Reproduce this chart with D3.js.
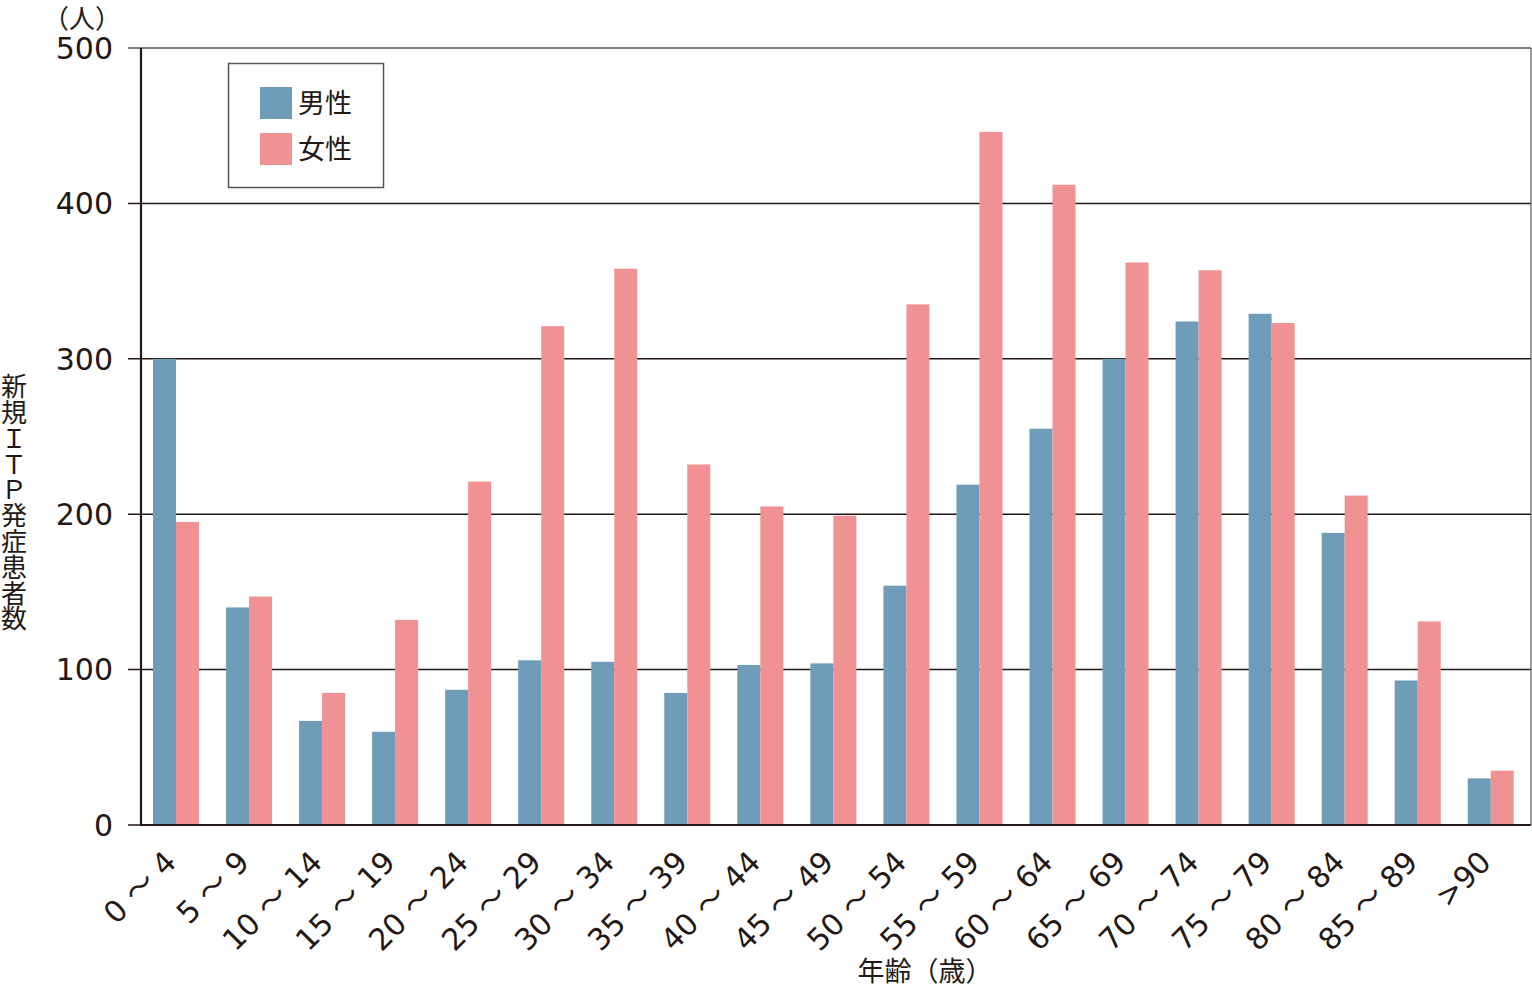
<!DOCTYPE html>
<html><head><meta charset="utf-8">
<script src="https://cdn.jsdelivr.net/npm/d3@7"></script>
<style>
html,body{margin:0;padding:0;background:#fff;}
svg{display:block;}
text{font-family:"Noto Sans CJK JP","Noto Sans",sans-serif;fill:#231815;}
text.num{font-family:"DejaVu Sans","Noto Sans CJK JP",sans-serif;}
</style></head>
<body>
<svg id="chart" width="1532" height="988"></svg>
<script>
const categories = ["0～4","5～9","10～14","15～19","20～24","25～29","30～34","35～39","40～44","45～49","50～54","55～59","60～64","65～69","70～74","75～79","80～84","85～89",">90"];
const male   = [300,140,67,60,87,106,105,85,103,104,154,219,255,300,324,329,188,93,30];
const female = [195,147,85,132,221,321,358,232,205,199,335,446,412,362,357,323,212,131,35];
const seriesNames = ["男性","女性"];
const seriesColors = ["#6f9cb9","#f09293"];
const yTicks = [0,100,200,300,400,500];
const yTitle = "新規ＩＴＰ発症患者数";

(function(){
const svg = d3.select("#chart");
const mLeft = 141, mRight = 1531, mTop = 48, mBottom = 825;

const x = d3.scaleBand().domain(categories).range([mLeft,mRight]).paddingInner(0.37).paddingOuter(0.2).align(0.41);
const xs = d3.scaleBand().domain(seriesNames).range([0,x.bandwidth()]).padding(0);
const y = d3.scaleLinear().domain([0,500]).range([mBottom,mTop]);

// gridlines + ticks
svg.append("g").selectAll("line").data(yTicks.filter(d=>d>0)).join("line")
  .attr("x1",128).attr("x2",mRight)
  .attr("y1",d=>y(d)).attr("y2",d=>y(d))
  .attr("stroke",d=>d===500?"#555":"#231815").attr("stroke-width",1.5);
svg.append("line").attr("x1",128).attr("x2",mLeft).attr("y1",y(0)).attr("y2",y(0)).attr("stroke","#231815").attr("stroke-width",1.5);

// tick labels
svg.append("g").selectAll("text").data(yTicks).join("text")
  .attr("class","num")
  .attr("x",113).attr("y",d=>y(d)).attr("dy","0.36em")
  .attr("text-anchor","end").attr("font-size",30).text(d=>d);

// bars
const data = categories.map((c,i)=>({c, vals:[male[i],female[i]]}));
const g = svg.append("g").selectAll("g").data(data).join("g")
  .attr("transform",d=>`translate(${x(d.c)},0)`);
g.selectAll("rect").data(d=>d.vals.map((v,j)=>({v,s:seriesNames[j],col:seriesColors[j]}))).join("rect")
  .attr("x",d=>xs(d.s)).attr("width",xs.bandwidth())
  .attr("y",d=>y(d.v)).attr("height",d=>y(0)-y(d.v))
  .attr("fill",d=>d.col);

// axes lines
svg.append("line").attr("x1",mLeft).attr("x2",mLeft).attr("y1",mTop).attr("y2",mBottom+1).attr("stroke","#231815").attr("stroke-width",2.2);
svg.append("line").attr("x1",mLeft).attr("x2",mRight).attr("y1",mBottom).attr("y2",mBottom).attr("stroke","#231815").attr("stroke-width",2.2);
svg.append("line").attr("x1",mRight).attr("x2",mRight).attr("y1",mTop).attr("y2",mBottom).attr("stroke","#555").attr("stroke-width",1.2);

// x labels
svg.append("g").selectAll("text").data(categories).join("text")
  .attr("class","num")
  .attr("transform",d=>`translate(${x(d)+x.bandwidth()/2-14},${mBottom+23}) rotate(-45)`)
  .attr("text-anchor","end").attr("dy","0.75em").attr("font-size",30)
  .text(d=>d.replace("～"," ～ "));

// axis titles
svg.append("text").attr("x",925).attr("y",972).attr("dy","0.35em").attr("text-anchor","middle").attr("font-size",27).text("年齢（歳）");
svg.append("text").attr("x",82).attr("y",19).attr("dy","0.35em").attr("text-anchor","middle").attr("font-size",26).text("（人）");
const vt = svg.append("text").attr("font-size",26).attr("text-anchor","middle");
vt.selectAll("tspan").data(Array.from(yTitle)).join("tspan")
  .attr("x",14).attr("y",(d,i)=>387+i*25.8).attr("dy","0.35em").text(d=>d);

// legend
const lg = svg.append("g");
lg.append("rect").attr("x",228.5).attr("y",63.5).attr("width",155).attr("height",124)
  .attr("fill","#fff").attr("stroke","#555").attr("stroke-width",1.5);
seriesNames.forEach((s,i)=>{
  lg.append("rect").attr("x",260).attr("y",87+i*46).attr("width",32).attr("height",32).attr("fill",seriesColors[i]);
  lg.append("text").attr("x",298).attr("y",103+i*46).attr("dy","0.36em").attr("font-size",27).text(s);
});
})();
</script>
</body></html>
